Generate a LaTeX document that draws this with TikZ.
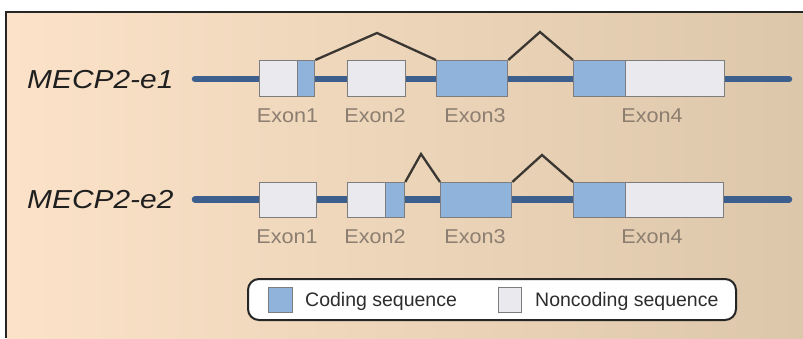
\documentclass[tikz,border=0pt]{standalone}
\usepackage{fontspec}
\setmainfont{Liberation Sans}
\usepackage{graphicx}
\definecolor{bgL}{RGB}{251,226,200}
\definecolor{bgR}{RGB}{221,199,170}
\definecolor{cdfill}{RGB}{143,179,218}
\definecolor{ncfill}{RGB}{233,233,238}
\definecolor{boxgray}{RGB}{125,125,128}
\definecolor{geneblue}{RGB}{61,95,142}
\definecolor{splicegray}{RGB}{58,54,50}
\definecolor{exlab}{RGB}{140,126,112}
\definecolor{legtext}{RGB}{45,45,45}
\tikzset{
  nc/.style={draw=boxgray, fill=ncfill, line width=1.3pt, inner sep=0pt, anchor=north west},
  cd/.style={draw=boxgray, fill=cdfill, line width=1.3pt, inner sep=0pt, anchor=north west},
  gene/.style={draw=geneblue, line width=6.5pt, line cap=round},
  splice/.style={draw=splicegray, line width=2.3pt, line join=miter},
  exlabel/.style={text=exlab, font=\fontsize{20}{22}\selectfont, inner sep=0pt, anchor=base},
  genelabel/.style={text=black!88, font=\fontsize{26}{28}\selectfont\itshape, inner sep=0pt, anchor=base west},
  legtxt/.style={text=legtext, font=\fontsize{19.5}{21}\selectfont, inner sep=0pt, anchor=base west},
}
\begin{document}
\begin{tikzpicture}[x=1pt,y=-1pt]
\useasboundingbox (0,0) rectangle (803,338);
% background panel
\shade[left color=bgL, right color=bgR] (6,12) rectangle (803,338);
\draw[line width=2.5pt, black!85] (6,338) -- (6,12) -- (803,12);

% ---------- row 1 ----------
\coordinate (g1s) at (195,79);
\coordinate (g1e) at (789,79);
\draw[gene] (g1s) -- (g1e);
\node[nc, minimum width=38pt, minimum height=36pt] (r1e1n) at (259,60) {};
\node[cd, minimum width=17pt, minimum height=36pt] (r1e1c) at (297,60) {};
\node[nc, minimum width=58pt, minimum height=36pt] (r1e2) at (347,60) {};
\node[cd, minimum width=71pt, minimum height=36pt] (r1e3) at (436,60) {};
\node[cd, minimum width=52pt, minimum height=36pt] (r1e4c) at (573,60) {};
\node[nc, minimum width=99pt, minimum height=36pt] (r1e4n) at (625,60) {};
\coordinate (p11) at (377,33);
\coordinate (p12) at (540,32);
\draw[splice] (r1e1c.north east) -- (p11) -- (r1e3.north west);
\draw[splice] (r1e3.north east) -- (p12) -- (r1e4c.north west);
\node[genelabel] (lab1) at (27,88) {\scalebox{1.15}[1]{MECP2-e1}};
\node[exlabel] (x11) at (287.5,122) {\scalebox{1.08}[1]{Exon1}};
\node[exlabel] (x12) at (375,122) {\scalebox{1.08}[1]{Exon2}};
\node[exlabel] (x13) at (475,122) {\scalebox{1.08}[1]{Exon3}};
\node[exlabel] (x14) at (652,122) {\scalebox{1.08}[1]{Exon4}};

% ---------- row 2 ----------
\coordinate (g2s) at (195,199.5);
\coordinate (g2e) at (789,199.5);
\draw[gene] (g2s) -- (g2e);
\node[nc, minimum width=57pt, minimum height=35pt] (r2e1) at (259,182) {};
\node[nc, minimum width=38pt, minimum height=35pt] (r2e2n) at (347,182) {};
\node[cd, minimum width=19pt, minimum height=35pt] (r2e2c) at (385,182) {};
\node[cd, minimum width=71pt, minimum height=35pt] (r2e3) at (440,182) {};
\node[cd, minimum width=52pt, minimum height=35pt] (r2e4c) at (573,182) {};
\node[nc, minimum width=98pt, minimum height=35pt] (r2e4n) at (625,182) {};
\coordinate (p21) at (421,154);
\coordinate (p22) at (542,155);
\draw[splice] (r2e2c.north east) -- (p21) -- (r2e3.north west);
\draw[splice] (r2e3.north east) -- (p22) -- (r2e4c.north west);
\node[genelabel] (lab2) at (27,208) {\scalebox{1.15}[1]{MECP2-e2}};
\node[exlabel] (x21) at (287,243) {\scalebox{1.08}[1]{Exon1}};
\node[exlabel] (x22) at (375,243) {\scalebox{1.08}[1]{Exon2}};
\node[exlabel] (x23) at (475,243) {\scalebox{1.08}[1]{Exon3}};
\node[exlabel] (x24) at (652,243) {\scalebox{1.08}[1]{Exon4}};

% ---------- legend ----------
\node[draw=black!85, fill=white, line width=2pt, rounded corners=11pt, inner sep=0pt,
      minimum width=488pt, minimum height=41pt, anchor=north west] (leg) at (247,278) {};
\node[cd, minimum width=24pt, minimum height=25pt] (legc) at (268,287) {};
\node[legtxt] (legct) at (305,306) {Coding sequence};
\node[nc, minimum width=23pt, minimum height=25pt] (legn) at (498,287) {};
\node[legtxt] (legnt) at (535,306) {Noncoding sequence};
\end{tikzpicture}
\end{document}
